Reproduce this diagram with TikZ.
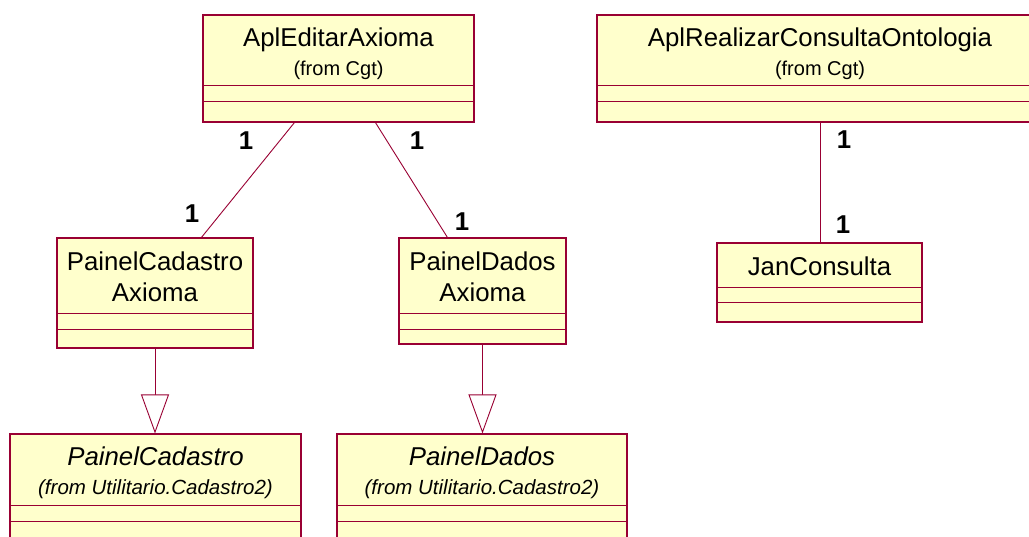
\documentclass[tikz,border=0pt]{standalone}
\usepackage{fontspec}
\setmainfont{Liberation Sans}
\usetikzlibrary{arrows.meta,fit}
\definecolor{umlred}{RGB}{153,0,51}
\definecolor{umlfill}{RGB}{255,255,204}

\tikzset{
  cls/.style={draw=umlred, fill=umlfill, line width=1.1pt, inner sep=0pt, rectangle},
  sepline/.style={draw=umlred, line width=0.9pt},
  ttl/.style={font=\fontsize{25.8}{31}\selectfont, anchor=base, inner sep=0pt},
  ittl/.style={font=\fontsize{25.8}{31}\selectfont\itshape, anchor=base, inner sep=0pt},
  sub/.style={font=\fontsize{20}{24}\selectfont, anchor=base, inner sep=0pt},
  isub/.style={font=\fontsize{20.5}{24}\selectfont\itshape, anchor=base, inner sep=0pt},
  mult/.style={font=\fontsize{25.8}{31}\selectfont\bfseries, anchor=base, inner sep=0pt},
  assoc/.style={draw=umlred, line width=0.9pt},
  gen/.style={draw=umlred, line width=0.9pt,
    -{Triangle[open, width=28pt, length=39pt, fill=white]}},
}

% class box: name, x1, y1, x2, y2, first separator, second separator
\newcommand\classbox[7]{%
  \coordinate (#1-nw) at (#2,#3);
  \coordinate (#1-se) at (#4,#5);
  \node[cls, fit=(#1-nw)(#1-se)] (#1) {};
  \draw[sepline] (#2,#6) -- (#4,#6);
  \draw[sepline] (#2,#7) -- (#4,#7);
}

\begin{document}
\begin{tikzpicture}[x=1pt, y=-1pt]
\clip (0,0) rectangle (1029,536);
\fill[white] (0,0) rectangle (1029,536);

% classes
\classbox{ea}{203}{15}{474}{122}{85}{101}
\node[ttl] (ea-t) at (338.5,46) {AplEditarAxioma};
\node[sub] (ea-s) at (338.5,75) {(from Cgt)};

\classbox{rc}{597}{15}{1043}{122}{85}{101}
\node[ttl] (rc-t) at (820,46) {AplRealizarConsultaOntologia};
\node[sub] (rc-s) at (820,75) {(from Cgt)};

\classbox{pca}{57}{238}{253}{348}{313}{329}
\node[ttl] (pca-t1) at (155,270) {PainelCadastro};
\node[ttl] (pca-t2) at (155,301) {Axioma};

\classbox{pda}{399}{238}{566}{344}{313}{329}
\node[ttl] (pda-t1) at (482.5,270) {PainelDados};
\node[ttl] (pda-t2) at (482.5,301) {Axioma};

\classbox{jc}{717}{243}{922}{322}{287}{302}
\node[ttl] (jc-t) at (819.5,275) {JanConsulta};

\classbox{pc}{10}{434}{301}{580}{505}{521}
\node[ittl] (pc-t) at (155.5,465) {PainelCadastro};
\node[isub] (pc-s) at (155.5,494) {(from Utilitario.Cadastro2)};

\classbox{pd}{337}{434}{627}{580}{505}{521}
\node[ittl] (pd-t) at (482,465) {PainelDados};
\node[isub] (pd-s) at (482,494) {(from Utilitario.Cadastro2)};

% associations
\draw[assoc] ([xshift=92pt]ea.south west) -- ([xshift=145pt]pca.north west);
\draw[assoc] ([xshift=173pt]ea.south west) -- ([xshift=49pt]pda.north west);
\draw[assoc] (rc.south) -- (rc.south |- jc.north);

% generalisations
\draw[gen] (pca.south) -- (pca.south |- pc.north);
\draw[gen] (pda.south) -- (pda.south |- pd.north);

% multiplicities
\node[mult] (m1) at (246,149) {1};
\node[mult] (m2) at (192,222) {1};
\node[mult] (m3) at (417,149) {1};
\node[mult] (m4) at (462,230) {1};
\node[mult] (m5) at (844,148) {1};
\node[mult] (m6) at (843,233) {1};
\end{tikzpicture}
\end{document}
